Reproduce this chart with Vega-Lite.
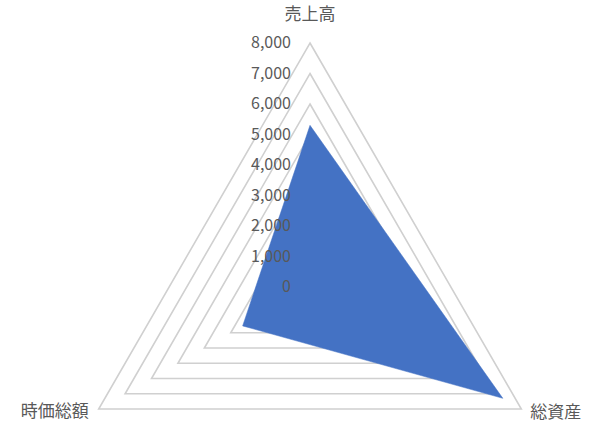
{
  "$schema": "https://vega.github.io/schema/vega-lite/v6.json",
  "description": "売上高・総資産・時価総額のレーダーチャート",
  "width": 610,
  "height": 432,
  "autosize": {"type": "fit", "contains": "padding"},
  "padding": 0,
  "background": "white",
  "config": {"view": {"stroke": null}, "font": "Noto Sans CJK JP"},
  "datasets": {
    "values": [
      {"axis": "売上高", "value": 5300},
      {"axis": "総資産", "value": 7300},
      {"axis": "時価総額", "value": 2550}
    ],
    "levels": [
      {"level": 0}, {"level": 1000}, {"level": 2000}, {"level": 3000}, {"level": 4000},
      {"level": 5000}, {"level": 6000}, {"level": 7000}, {"level": 8000}
    ]
  },
  "encoding": {
    "x": {
      "field": "x",
      "type": "quantitative",
      "scale": {"domain": [-10164, 9836], "nice": false, "zero": false},
      "axis": null
    },
    "y": {
      "field": "y",
      "type": "quantitative",
      "scale": {"domain": [-4754, 9410], "nice": false, "zero": false},
      "axis": null
    }
  },
  "layer": [
    {
      "data": {"name": "levels"},
      "transform": [
        {"filter": "datum.level > 0"},
        {"calculate": "[0, 1, 2]", "as": "k"},
        {"flatten": ["k"]},
        {"calculate": "datum.k * 2 * PI / 3", "as": "a"},
        {"calculate": "datum.level * sin(datum.a)", "as": "x"},
        {"calculate": "datum.level * cos(datum.a)", "as": "y"}
      ],
      "mark": {"type": "line", "interpolate": "linear-closed", "color": "#D0D0D0", "strokeWidth": 1.6},
      "encoding": {
        "detail": {"field": "level", "type": "quantitative"},
        "order": {"field": "k", "type": "quantitative"}
      }
    },
    {
      "data": {"name": "values"},
      "transform": [
        {"calculate": "indexof(['売上高', '総資産', '時価総額'], datum.axis) * 2 * PI / 3", "as": "a"},
        {"calculate": "datum.value * sin(datum.a)", "as": "x"},
        {"calculate": "datum.value * cos(datum.a)", "as": "y"}
      ],
      "mark": {"type": "line", "interpolate": "linear-closed", "filled": true, "fill": "#4472C4", "stroke": "#4472C4", "strokeWidth": 0.5},
      "encoding": {
        "order": {"field": "a", "type": "quantitative"}
      }
    },
    {
      "data": {"name": "levels"},
      "transform": [
        {"calculate": "0", "as": "x"},
        {"calculate": "datum.level", "as": "y"}
      ],
      "mark": {"type": "text", "align": "right", "baseline": "middle", "dx": -19, "fontSize": 16, "color": "#595959"},
      "encoding": {
        "text": {"field": "level", "type": "quantitative", "format": ","}
      }
    },
    {
      "data": {"name": "values"},
      "transform": [
        {"calculate": "indexof(['売上高', '総資産', '時価総額'], datum.axis) * 2 * PI / 3", "as": "a"},
        {"calculate": "8000 * sin(datum.a)", "as": "x"},
        {"calculate": "8000 * cos(datum.a)", "as": "y"}
      ],
      "encoding": {"text": {"field": "axis", "type": "nominal"}},
      "layer": [
        {
          "transform": [{"filter": "datum.axis == '売上高'"}],
          "mark": {"type": "text", "align": "center", "baseline": "middle", "dy": -28, "fontSize": 17, "color": "#595959"}
        },
        {
          "transform": [{"filter": "datum.axis == '総資産'"}],
          "mark": {"type": "text", "align": "left", "baseline": "middle", "dx": 9, "dy": 4, "fontSize": 17, "color": "#595959"}
        },
        {
          "transform": [{"filter": "datum.axis == '時価総額'"}],
          "mark": {"type": "text", "align": "right", "baseline": "middle", "dx": -10, "dy": 3, "fontSize": 17, "color": "#595959"}
        }
      ]
    }
  ]
}
